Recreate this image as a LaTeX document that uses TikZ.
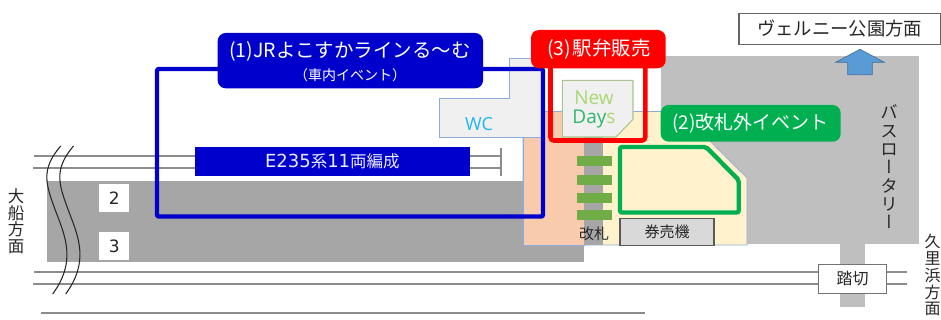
\documentclass[tikz,border=0pt]{standalone}
\usepackage{fontspec}
\setmainfont{Noto Sans CJK JP}
\newfontfamily\latinfont{Open Sans}
\newfontfamily\dejafont{DejaVu Sans}
\newfontfamily\vertfont[RawFeature={+vert}]{Noto Sans CJK JP}
\definecolor{jrblue}{HTML}{0000CC}
\definecolor{platgray}{HTML}{A6A6A6}
\definecolor{railgray}{HTML}{8C8C8C}
\definecolor{rotary}{HTML}{BFBFBF}
\definecolor{cream}{HTML}{FFF2CC}
\definecolor{peach}{HTML}{F8CBAD}
\definecolor{wcfill}{HTML}{F0F0F0}
\definecolor{wcedge}{HTML}{8FAADC}
\definecolor{gatebar}{HTML}{70AD47}
\definecolor{evgreen}{HTML}{00B050}
\definecolor{ndedge}{HTML}{A9C48E}
\definecolor{ndlight}{HTML}{A9D970}
\definecolor{nddark}{HTML}{2DB56A}
\definecolor{wctext}{HTML}{1FB5F5}
\definecolor{arrowblue}{HTML}{5B9BD5}
\definecolor{arrowedge}{HTML}{41719C}
\definecolor{inktext}{HTML}{262626}
\newcommand{\px}[1]{\fontsize{\fpeval{#1*0.75}pt}{\fpeval{#1*0.75}pt}\selectfont\lineskiplimit=-100pt }
\tikzset{
  x=0.75pt,y=-0.75pt,
  box/.style={inner sep=0pt,outer sep=0pt,anchor=north west},
  rail/.style={draw=railgray,line width=1.5pt},
  zone/.style={line width=3.3pt,rounded corners=1.5pt},
  tag/.style={box,rounded corners=6pt,text=white,align=center},
  gatebarbox/.style={box,fill=gatebar,minimum width=26.25pt,minimum height=7.5pt},
  platnum/.style={box,fill=white,minimum width=22.5pt,minimum height=21pt,text=inktext,font=\dejafont\px{17}},
  ink/.style={text=inktext,inner sep=0pt,align=center},
  breakline/.style={draw=black!85,line width=0.8pt}
}
\begin{document}
\begin{tikzpicture}
\useasboundingbox (0,0) rectangle (941,320);
% bus rotary and road
\fill[rotary] (660.5,56) rectangle (919,244);
\fill[rotary] (840,244) rectangle (864.7,307);
% platform
\fill[platgray] (47,181) rectangle (584,261.5);
% rails
\coordinate (ra1) at (34,155.7); \coordinate (ra2) at (501,155.7);
\coordinate (rb1) at (33,167.7); \coordinate (rb2) at (501,167.7);
\coordinate (rc1) at (34,271.7); \coordinate (rc2) at (907,271.7);
\coordinate (rd1) at (33,284); \coordinate (rd2) at (907,284);
\coordinate (re1) at (41,313.3); \coordinate (re2) at (645,313.3);
\coordinate (rs1) at (501,148); \coordinate (rs2) at (501,176);
\draw[rail] (ra1) -- (ra2);
\draw[rail] (rb1) -- (rb2);
\draw[rail] (rc1) -- (rc2);
\draw[rail] (rd1) -- (rd2);
\draw[rail] (re1) -- (re2);
\draw[rail] (rs1) -- (rs2);
% track break
\coordinate (ba1) at (60.7,146); \coordinate (ba2) at (52.7,294);
\coordinate (bb1) at (73.5,146); \coordinate (bb2) at (65.7,294);
\draw[breakline] (ba1) .. controls (40,170) and (46,185) .. (56,212) .. controls (66,238) and (76,262) .. (ba2);
\draw[breakline] (bb1) .. controls (53,170) and (59,185) .. (69,212) .. controls (79,238) and (89,262) .. (bb2);
% platform numbers
\node[platnum] (p2) at (99.3,184) {2};
\node[platnum] (p3) at (99.3,232) {3};
% train
\node[box,fill=jrblue,minimum width=206.5pt,minimum height=21.75pt,text=white!92!blue,font=\px{16.5}] (train) at (194.7,147) {{\dejafont\px{18}E235}系{\dejafont\px{18}11}両編成};
% concourse
\fill[cream,draw=wcedge,line width=0.5pt] (523,111.5) -- (680,111.5) -- (747,178) -- (747,245) -- (523,245) -- cycle;
\fill[peach,draw=wcedge,line width=0.5pt] (523,111.5) -- (584,111.5) -- (584,245) -- (523,245) -- cycle;
% wc
\fill[wcfill,draw=wcedge,line width=0.6pt] (439.3,98) -- (509.3,98) -- (509.3,58) -- (541,58) -- (541,137.7) -- (439.3,137.7) -- cycle;
\node[inner sep=0pt,text=wctext,font=\latinfont\px{18}] (wc) at (479,124) {WC};
% gates
\fill[platgray] (584,137) rectangle (602.7,245);
\node[gatebarbox] (g1) at (576.7,156) {};
\node[gatebarbox] (g2) at (576.7,174.7) {};
\node[gatebarbox] (g3) at (576.7,192.7) {};
\node[gatebarbox] (g4) at (576.7,210) {};
\node[ink,font=\px{15}] (gate) at (594,234) {改札};
\node[box,draw=black!65,line width=0.8pt,fill=black!15,minimum width=70.5pt,minimum height=20pt,text=inktext,font=\px{15}] (ticket) at (620,218.7) {券売機};
% new days
\filldraw[fill=wcfill,draw=ndedge,line width=0.8pt] (562.3,80.3) -- (633,80.3) -- (633,119.3) -- (616,137) -- (562.3,137) -- cycle;
\node[inner sep=0pt,text=ndlight,font=\latinfont\px{19}] (new) at (594,98) {New};
\node[inner sep=0pt,font=\latinfont\px{19}] (days) at (594,119) {\textcolor{nddark}{Day}\textcolor{ndlight}{s}};
% zones
\draw[zone,draw=jrblue] (157,69) rectangle (543,216.5);
\draw[zone,draw=red,line width=3.4pt,rounded corners=2.5pt] (550.5,55) rectangle (645.3,140.5);
\draw[zone,draw=evgreen] (620,147) -- (706,147) -- (738.7,180) -- (738.7,212.5) -- (620,212.5) -- cycle;
% tags
\node[tag,fill=jrblue,minimum width=199pt,minimum height=41.5pt] (t1) at (217.7,33) {};
\node[inner sep=0pt,text=white,font=\px{19.5}] (t1a) at (350,51) {(1)JRよこすかラインる～む};
\node[inner sep=0pt,text=white,font=\px{14}] (t1b) at (350,75) {（車内イベント）};
\node[tag,fill=red,minimum width=101pt,minimum height=28.7pt,font=\px{19.5}] (t3) at (531,30) {\kern1pt(3)\kern1pt駅弁販売};
\node[tag,fill=evgreen,minimum width=135pt,minimum height=27.5pt,font=\px{19}] (t2) at (660.7,105) {(2)改札外イベント};
% park direction
\node[box,draw=black!60,line width=0.8pt,fill=white,minimum width=151pt,minimum height=23.5pt,text=inktext,font=\px{18.3}] (park) at (739,13.3) {ヴェルニー公園方面};
\filldraw[fill=arrowblue,draw=arrowedge,line width=0.5pt] (860,49.3) -- (884.3,62.3) -- (872.3,62.3) -- (872.3,74.7) -- (847.7,74.7) -- (847.7,62.3) -- (835.7,62.3) -- cycle;
% vertical texts
\node[ink,font=\px{17}] (rot) at (889,167) {バ\\[1pt]ス\\[1pt]ロ\\[1pt]{\vertfont ー}\\[1pt]タ\\[1pt]リ\\[1pt]{\vertfont ー}};
\node[ink,font=\px{16.5}] (ofuna) at (16,221) {大\\船\\方\\面};
\node[ink,font=\px{16}] (kuri) at (932.5,275) {久\\[0.7pt]里\\[0.7pt]浜\\[0.7pt]方\\[0.7pt]面};
% crossing
\node[box,draw=black!55,line width=0.8pt,fill=white,minimum width=51pt,minimum height=21.75pt,text=inktext,font=\px{16}] (cross) at (818.7,264.3) {踏切};
\end{tikzpicture}
\end{document}
